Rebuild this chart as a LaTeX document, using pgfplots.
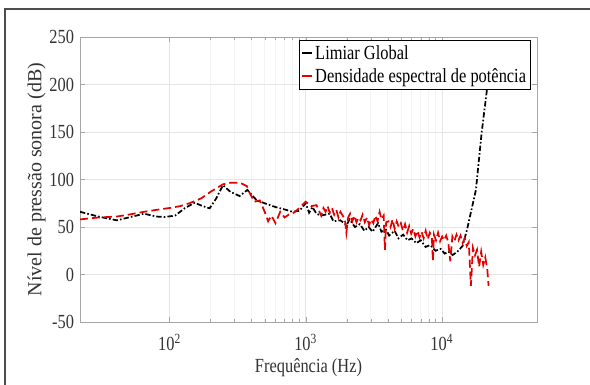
\documentclass[border=0pt]{standalone}
\usepackage{pgfplots}
\pgfplotsset{compat=1.18}
\usepackage{fontspec}
\setmainfont{Liberation Serif}[FakeStretch=0.82]
\newfontfamily\ylabfont{Liberation Serif}
\definecolor{txtgray}{gray}{0.2}
\definecolor{axgray}{gray}{0.65}
\definecolor{mred}{rgb}{0.9,0,0}
\begin{document}
\begin{tikzpicture}
\path[use as bounding box] (-60pt,-47.25pt) rectangle (382.5pt,241.5pt);
\draw[line width=1.3pt, gray!60!black] (-56.25pt,-60pt) -- (-56.25pt,235pt) -- (400pt,235pt);
\begin{axis}[
  scale only axis, width=342.75pt, height=213.75pt,
  xmode=log, xmin=22, xmax=50000,
  ymin=-50, ymax=250,
  xtick={100,1000,10000},
  xticklabels={10\textsuperscript{2},10\textsuperscript{3},10\textsuperscript{4}},
  ytick={-50,0,50,100,150,200,250},
  yticklabels={-50,0,50,100,150,200,250},
  grid=both,
  major grid style={gray!20, line width=0.5pt},
  minor grid style={gray!9, line width=0.4pt},
  axis line style={axgray},
  tick style={axgray},
  tick align=inside,
  major tick length=4pt, minor tick length=2.5pt,
  every tick label/.append style={font=\fontsize{15}{17}\selectfont, text=txtgray},
  xticklabel style={yshift=-6pt},
  yticklabel style={xshift=-1pt},
  xlabel={Frequência (Hz)},
  ylabel={\ylabfont Nível de pressão sonora (dB)},
  label style={font=\fontsize{15}{17}\selectfont, text=txtgray},
  xlabel style={yshift=1.5pt},
  ylabel style={yshift=-4pt},
  legend style={at={(0.987,0.989)}, anchor=north east, draw=black, line width=0.5pt,
    font=\fontsize{15}{17}\selectfont, inner sep=1.5pt, row sep=1.5pt,
    cells={anchor=west}},
  legend image code/.code={\draw[#1, line width=1.3pt, solid] (0pt,0pt) -- (7pt,0pt);},
]
\addplot[black, line width=1.3pt, dash pattern=on 4pt off 1.6pt on 1.2pt off 1.6pt] table {
x y
22 66
30 61
41 57
50 60
65 64
80 61
92 60.5
110 62
130 70
153 75.5
175 72
197 69.7
220 80
247 94
280 87
327 82.6
373 89
437 78
500 75
600 71
700 68.5
800 66
900 67
1000 75
1060 65
1120 71
1200 64
1300 62
1500 64
1600 56
1800 57
2000 52
2100 58
2300 50
2500 53
2700 46
2900 50
3100 45
3400 54
3600 45
3900 47
4100 41
4500 46
4800 38
5200 42
5600 36
6000 38
6500 33
7000 36
7600 29
8200 31
9000 25
9800 27
10500 22
11200 24
12000 20.5
13000 24
14200 30
15300 47
16500 68
17800 89
19600 149
21300 191
22050 210
};
\addlegendentry{Limiar Global}
\addplot[mred, line width=1.3pt, dash pattern=on 6pt off 3pt] table {
x y
22 58
30 60
41 61
50 63
65 66
80 68
100 70
120 72
140 75
170 80
200 87
247 95
280 96.5
330 96.6
370 93
390 85
420 76.6
460 78
500 66
530 56
560 62
600 54
650 66
700 60
750 63
800 64
900 70
1000 76.6
1100 72
1200 73
1300 62
1350 70
1400 66
1450 72
1500 65
1560 70
1620 63
1680 68
1740 60
1800 66
1870 62
1940 58
1990 44
2050 60
2120 64
2200 56
2280 62
2360 55
2440 60
2530 57
2620 63
2720 55
2820 60
2920 52
3030 58
3140 54
3250 62
3370 56
3490 66
3610 58
3740 62
3820 26
3900 55
4050 56
4200 50
4350 58
4500 48
4660 56
4830 50
5000 54
5180 46
5370 53
5560 44
5760 51
5960 43
6170 48
6390 40
6620 46
6860 39
7100 45
7350 38
7610 46
7880 37
8160 44
8450 39
8600 14
8750 42
9060 36
9380 44
9710 35
10050 40
10400 36
10770 41
11150 34
11540 14
11950 40
12370 35
12810 42
13260 36
13730 41
14220 33
14720 38
15240 30
15780 34
16340 -12
16920 28
17520 20
18140 26
18780 8
19450 24
20140 10
20850 18
21590 5
22050 -12
};
\addlegendentry{Densidade espectral de potência}
\end{axis}
\end{tikzpicture}
\end{document}
